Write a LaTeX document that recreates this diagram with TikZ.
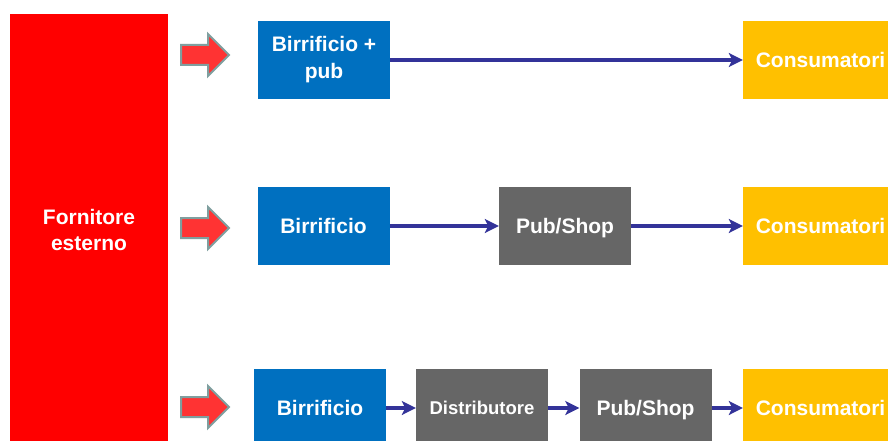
\documentclass[tikz,border=0pt]{standalone}
\usepackage{fontspec}
\setmainfont{Liberation Sans}
\usetikzlibrary{arrows.meta}
\definecolor{supred}{HTML}{FF0000}
\definecolor{brewblue}{HTML}{0070C0}
\definecolor{midgray}{HTML}{666666}
\definecolor{amber}{HTML}{FFC000}
\definecolor{arrowred}{HTML}{FF3333}
\definecolor{arrowedge}{HTML}{7F9F9F}
\definecolor{linkblue}{HTML}{333399}
\tikzset{
  box/.style={rectangle, inner sep=0pt, text=white, font=\bfseries\fontsize{21}{27}\selectfont, align=center},
  oneline/.style={text height=17pt, text depth=2pt},
  brew/.style={box, fill=brewblue, minimum width=132pt, minimum height=78pt},
  mid/.style={box, oneline, fill=midgray, minimum width=132pt, minimum height=78pt},
  cons/.style={box, oneline, fill=amber, minimum width=155pt, minimum height=78pt},
  link/.style={draw=linkblue, line width=3.3pt, -{Stealth[length=14pt,width=14pt,inset=3.5pt]}},
  fatarrow/.style={fill=arrowred, draw=arrowedge, line width=2pt, line join=miter}
}
\begin{document}
\begin{tikzpicture}[x=1pt,y=-1pt]
\useasboundingbox (0,0) rectangle (888,441);
\fill[white] (0,0) rectangle (888,441);

% supplier column
\node[box, fill=supred, minimum width=158pt, minimum height=430pt,
      anchor=north west] (forn) at (10,14) {};
\node[box, font=\bfseries\fontsize{21}{26}\selectfont, anchor=center] (fornlbl) at (89,230) {Fornitore\\esterno};

% supply arrows
\foreach \cy in {55,228,407}{
  \draw[fatarrow] (181,\cy-10) -- (208,\cy-10) -- (208,\cy-21) -- (229,\cy)
     -- (208,\cy+21) -- (208,\cy+10) -- (181,\cy+10) -- cycle;
}

% chain 1: brewpub
\node[brew] (bp) at (324,60) {Birrificio +\\pub};
\node[cons] (c1) at (820.5,60) {Consumatori};
\draw[link] (bp) -- (c1);

% chain 2: brewery - pub
\node[brew, oneline] (b2) at (323.5,226) {Birrificio};
\node[mid] (p2) at (565,226) {Pub/Shop};
\node[cons] (c2) at (820.5,226) {Consumatori};
\draw[link] (b2) -- (p2);
\draw[link] (p2) -- (c2);

% chain 3: brewery - distributor - pub
\node[brew, oneline] (b3) at (320,408) {Birrificio};
\node[mid, font=\bfseries\fontsize{18.5}{22}\selectfont, text height=14pt, text depth=1pt] (d3) at (482,408) {Distributore};
\node[mid] (p3) at (645.5,408) {Pub/Shop};
\node[cons] (c3) at (820.5,408) {Consumatori};
\draw[link] (b3) -- (d3);
\draw[link] (d3) -- (p3);
\draw[link] (p3) -- (c3);
\end{tikzpicture}
\end{document}
